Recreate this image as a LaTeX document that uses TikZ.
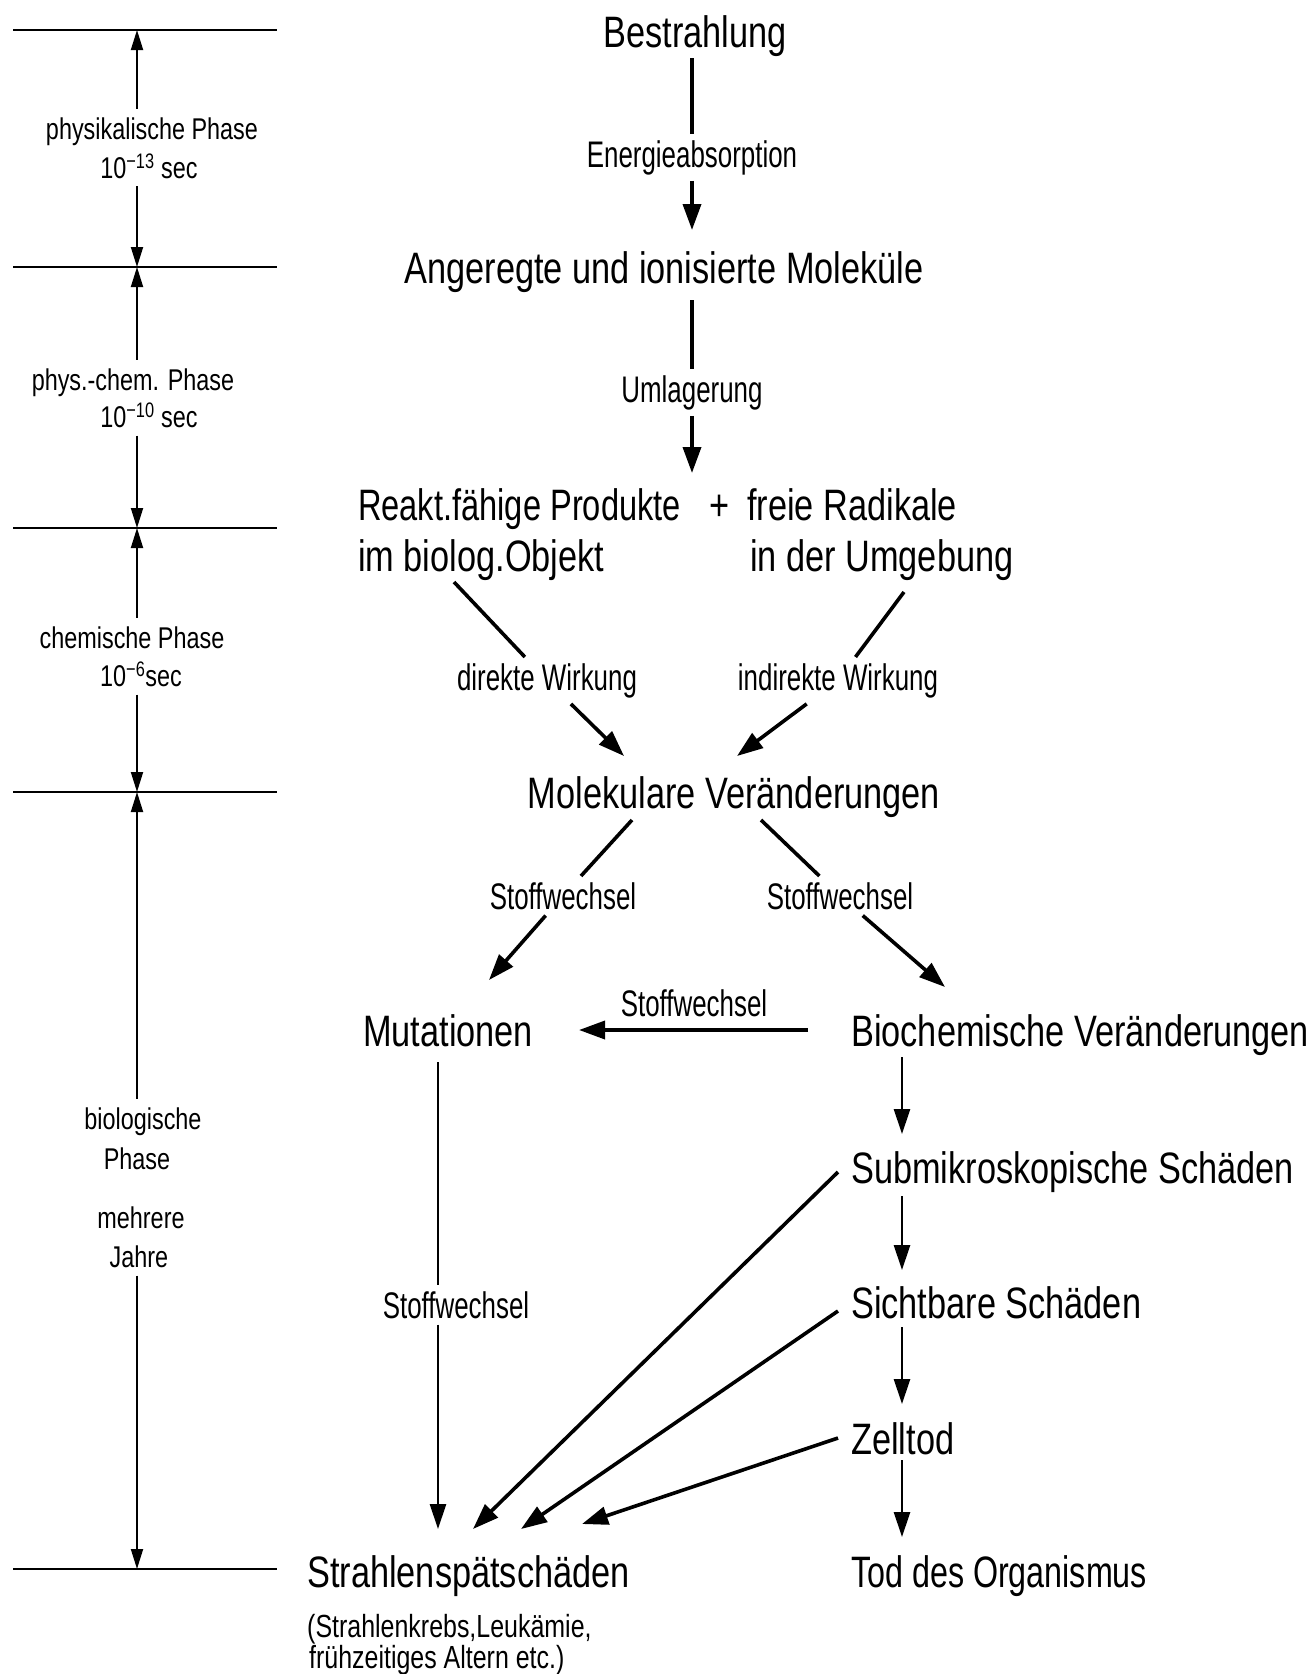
\documentclass[tikz,border=0pt]{standalone}
\usepackage{fontspec}
\setmainfont{Liberation Sans}[FakeStretch=0.78]
\newfontfamily\narrowfont{Liberation Sans}[FakeStretch=0.70]
\usetikzlibrary{arrows.meta}
\tikzset{
  mtip/.tip={Triangle[length=26pt,width=18pt]},
  rtip/.tip={Triangle[length=25pt,width=16pt]},
  ptip/.tip={Triangle[length=20pt,width=12pt]},
}
\begin{document}
\begin{tikzpicture}[x=1pt,y=-1pt,
  big/.style={font=\fontsize{44}{51}\selectfont, inner sep=0pt},
  sub/.style={font=\fontsize{32}{32}\selectfont, inner sep=0pt, anchor=base west},
  mid/.style={font=\narrowfont\fontsize{37}{40}\selectfont, inner sep=6pt, anchor=base},
  phase/.style={font=\fontsize{30}{34}\selectfont, inner sep=8pt, anchor=base},
  rule/.style={line width=2pt},
  pline/.style={line width=1.8pt},
  main/.style={line width=3.6pt},
  col/.style={line width=2.8pt},
]
\useasboundingbox (0,0) rectangle (1313,1674);

% ---------- left time scale ----------
\coordinate (h1l) at (13,30);   \coordinate (h1r) at (277,30);   \coordinate (h1) at (137,30);
\coordinate (h2l) at (13,267);  \coordinate (h2r) at (277,267);  \coordinate (h2) at (137,267);
\coordinate (h3l) at (13,528);  \coordinate (h3r) at (277,528);  \coordinate (h3) at (137,528);
\coordinate (h4l) at (13,792);  \coordinate (h4r) at (277,792);  \coordinate (h4) at (137,792);
\coordinate (h5l) at (13,1569); \coordinate (h5r) at (277,1569); \coordinate (h5) at (137,1569);
\draw[rule] (h1l) -- (h1r);
\draw[rule] (h2l) -- (h2r);
\draw[rule] (h3l) -- (h3r);
\draw[rule] (h4l) -- (h4r);
\draw[rule] (h5l) -- (h5r);

\node[phase] (ph1a) at (152,139) {physikalische Phase};
\node[phase] (ph1b) at (149,178) {10\textsuperscript{−13} sec};
\node[phase] (ph2a) at (133,390) {phys.-chem. Phase};
\node[phase] (ph2b) at (149,427) {10\textsuperscript{−10} sec};
\node[phase] (ph3a) at (132,648) {chemische Phase};
\node[phase] (ph3b) at (141,686) {10\textsuperscript{−6}sec};
\node[phase] (ph4a) at (143,1129) {biologische};
\node[phase] (ph4b) at (137,1169) {Phase};
\node[phase] (ph4c) at (141,1228) {mehrere};
\node[phase] (ph4d) at (139,1267) {Jahre};

\draw[pline,{ptip}-] (h1) -- (ph1a.north -| h1);
\draw[pline,-{ptip}] (ph1b.south -| h1) -- (h2);
\draw[pline,{ptip}-] (h2) -- (ph2a.north -| h2);
\draw[pline,-{ptip}] (ph2b.south -| h2) -- (h3);
\draw[pline,{ptip}-] (h3) -- (ph3a.north -| h3);
\draw[pline,-{ptip}] (ph3b.south -| h3) -- (h4);
\draw[pline,{ptip}-] (h4) -- (ph4a.north -| h4);
\draw[pline,-{ptip}] (ph4d.south -| h4) -- (h5);

% ---------- main nodes ----------
\node[big, anchor=base] (best) at (695,47) {Bestrahlung};
\node[big, anchor=base] (ang) at (664,283) {Angeregte und ionisierte Moleküle};
\node[big, anchor=base west] (rea) at (358,520) {\scalebox{0.95}[1]{Reakt.fähige Produkte}};
\node[big, anchor=base west] (reb) at (358,571) {im biolog.Objekt};
\node[big, anchor=base] (plus) at (720,520) {+};
\node[big, anchor=base west] (raa) at (747,520) {freie Radikale};
\node[big, anchor=base west] (rab) at (750,571) {in der Umgebung};
\node[big, anchor=base] (mol) at (734,808) {Molekulare Veränderungen};
\node[big, anchor=base west] (mut) at (363,1046) {Mutationen};
\node[big, anchor=base west] (bio) at (851,1046) {Biochemische Veränderungen};
\node[big, anchor=base west] (smk) at (851,1183) {Submikroskopische Schäden};
\node[big, anchor=base west] (sib) at (851,1318) {Sichtbare Schäden};
\node[big, anchor=base west] (zel) at (851,1454) {Zelltod};
\node[big, anchor=base west] (tod) at (851,1587) {\scalebox{0.94}[1]{Tod des Organismus}};
\node[big, anchor=base west] (str) at (307,1587) {Strahlenspätschäden};
\node[sub] (stra) at (307,1637) {(Strahlenkrebs,Leukämie,};
\node[sub] (strb) at (309,1668) {frühzeitiges Altern etc.)};

% ---------- connector labels ----------
\node[mid] (len) at (692,167) {Energieabsorption};
\node[mid] (lum) at (692,402) {Umlagerung};
\node[mid] (ldi) at (547,690) {direkte Wirkung};
\node[mid] (lin) at (838,690) {indirekte Wirkung};
\node[mid] (ls1) at (563,909) {Stoffwechsel};
\node[mid] (ls2) at (840,909) {Stoffwechsel};
\node[mid] (ls3) at (694,1016) {Stoffwechsel};
\node[mid] (ls4) at (456,1318) {Stoffwechsel};

% ---------- ports ----------
\coordinate (pB) at (692,58);
\coordinate (pA) at (692,230);
\coordinate (pA2) at (692,300);
\coordinate (pR) at (692,473);
\coordinate (pR1) at (454,582);
\coordinate (pM1) at (624,756);
\coordinate (pR2) at (904,592);
\coordinate (pM2) at (737,756);
\coordinate (pM3) at (632,820);
\coordinate (pMu1) at (489,980);
\coordinate (pM4) at (761,820);
\coordinate (pBi1) at (945,987);
\coordinate (pBi2) at (808,1030);
\coordinate (pMu2) at (579,1030);
\coordinate (pMu3) at (438,1062);
\coordinate (pS1) at (438,1529);
\coordinate (pBi3) at (902,1057);
\coordinate (pSu1) at (902,1134);
\coordinate (pSu2) at (902,1196);
\coordinate (pSi1) at (902,1270);
\coordinate (pSi2) at (902,1327);
\coordinate (pZ1) at (902,1404);
\coordinate (pZ2) at (902,1460);
\coordinate (pT1) at (902,1537);
\coordinate (pSu3) at (838,1172);
\coordinate (pS2) at (473,1529);
\coordinate (pSi3) at (838,1311);
\coordinate (pS3) at (521,1529);
\coordinate (pZ3) at (838,1438);
\coordinate (pS4) at (582,1524);

% ---------- connectors ----------
\draw[main] (pB) -- (len);
\draw[main,-{mtip}] (len) -- (pA);
\draw[main] (pA2) -- (lum);
\draw[main,-{mtip}] (lum) -- (pR);

\draw[main] (pR1) -- (ldi);
\draw[main,-{mtip}] (ldi) -- (pM1);
\draw[main] (pR2) -- (lin);
\draw[main,-{mtip}] (lin) -- (pM2);

\draw[main] (pM3) -- (ls1);
\draw[main,-{mtip}] (ls1) -- (pMu1);
\draw[main] (pM4) -- (ls2);
\draw[main,-{mtip}] (ls2) -- (pBi1);

\draw[main,-{mtip}] (pBi2) -- (pMu2);

\draw[col] (pMu3) -- (ls4.north -| pMu3);
\draw[col,-{rtip}] (ls4.south -| pMu3) -- (pS1);

\draw[col,-{rtip}] (pBi3) -- (pSu1);
\draw[col,-{rtip}] (pSu2) -- (pSi1);
\draw[col,-{rtip}] (pSi2) -- (pZ1);
\draw[col,-{rtip}] (pZ2) -- (pT1);

\draw[main,-{mtip}] (pSu3) -- (pS2);
\draw[main,-{mtip}] (pSi3) -- (pS3);
\draw[main,-{mtip}] (pZ3) -- (pS4);
\end{tikzpicture}
\end{document}
